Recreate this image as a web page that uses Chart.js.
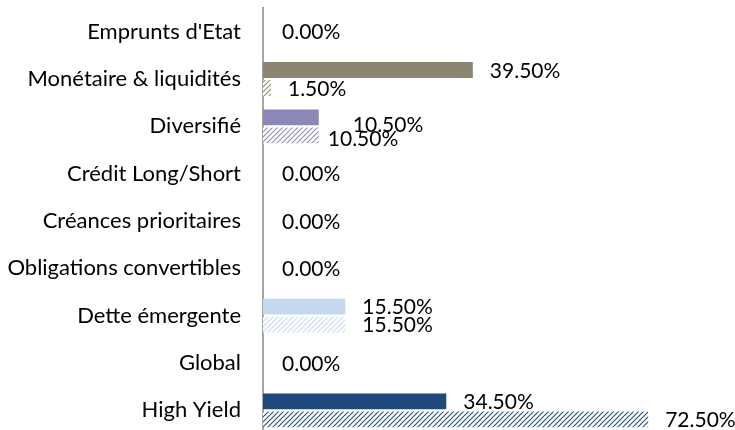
<!DOCTYPE html>
<html>
<head>
<meta charset="utf-8">
<script src="https://cdn.jsdelivr.net/npm/chart.js@4/dist/chart.umd.min.js"></script>
<style>
  html, body { margin: 0; padding: 0; background: #fff; overflow: hidden; }
  #wrap { width: 735px; height: 436px; position: relative; }
</style>
</head>
<body>
<div id="wrap"><canvas id="c"></canvas></div>
<script>
// ---- data ----
const categories = [
  "Emprunts d'Etat",
  "Monétaire & liquidités",
  "Diversifié",
  "Crédit Long/Short",
  "Créances prioritaires",
  "Obligations convertibles",
  "Dette émergente",
  "Global",
  "High Yield"
];
const seriesSolid   = [0, 39.5, 10.5, 0, 0, 0, 15.5, 0, 34.5];
const seriesHatched = [0, 1.5, 10.5, 0, 0, 0, 15.5, 0, 72.5];
const categoryColors = ["#8C8571", "#8C8571", "#8B88B6", "#8B88B6", "#8B88B6", "#8B88B6", "#C6D8EF", "#1F497D", "#1F497D"];

// ---- styling helpers ----
function hatch(color) {
  const s = 5;
  const c = document.createElement('canvas');
  c.width = s; c.height = s;
  const g = c.getContext('2d');
  g.fillStyle = '#ffffff';
  g.fillRect(0, 0, s, s);
  g.strokeStyle = color;
  g.lineWidth = 1.05;
  g.beginPath();
  g.moveTo(0, s); g.lineTo(s, 0);
  g.moveTo(-1, 1); g.lineTo(1, -1);
  g.moveTo(s - 1, s + 1); g.lineTo(s + 1, s - 1);
  g.stroke();
  return document.getElementById('c').getContext('2d').createPattern(c, 'repeat');
}

const FONT = "Lato";
const labelNudges = { 2: [[17, 7], [-8, 3]] }; // cosmetic label offsets (category index -> per dataset)

const valueLabels = {
  id: 'valueLabels',
  afterDatasetsDraw(chart) {
    const ctx = chart.ctx;
    const xs = chart.scales.x, ys = chart.scales.y;
    ctx.save();
    ctx.font = "21px " + FONT;
    ctx.fillStyle = "#000";
    ctx.textAlign = "left";
    ctx.textBaseline = "middle";
    const fmt = v => v.toFixed(2) + "%";
    categories.forEach((cat, i) => {
      const a = seriesSolid[i], b = seriesHatched[i];
      if (a === 0 && b === 0) {
        ctx.fillText(fmt(0), xs.getPixelForValue(0) + 19, ys.getPixelForValue(i) + 1);
        return;
      }
      [0, 1].forEach(d => {
        const el = chart.getDatasetMeta(d).data[i];
        const v = chart.data.datasets[d].data[i];
        const n = (labelNudges[i] && labelNudges[i][d]) || [0, 0];
        ctx.fillText(fmt(v), el.x + 17 + n[0], el.y + 1 + n[1]);
      });
    });
    ctx.restore();
  }
};

const chart = new Chart(document.getElementById('c'), {
  type: 'bar',
  data: {
    labels: categories,
    datasets: [
      {
        label: 'A',
        data: seriesSolid,
        backgroundColor: categoryColors,
        borderWidth: 0,
        categoryPercentage: 0.76,
        barPercentage: 0.88
      },
      {
        label: 'B',
        data: seriesHatched,
        backgroundColor: categoryColors.map(hatch),
        borderWidth: 0,
        categoryPercentage: 0.76,
        barPercentage: 0.88
      }
    ]
  },
  options: {
    indexAxis: 'y',
    responsive: true,
    maintainAspectRatio: false,
    animation: false,
    layout: { padding: { top: 8, bottom: 2, left: 0, right: 47 } },
    plugins: { legend: { display: false }, tooltip: { enabled: false } },
    scales: {
      x: {
        display: false,
        min: 0,
        max: 80
      },
      y: {
        grid: { display: false, drawTicks: false },
        border: { display: true, color: '#A6A6A6', width: 2 },
        ticks: {
          color: '#000',
          padding: 22,
          font: { family: FONT, size: 22 }
        },
        afterFit(scale) {
          scale.width = 263;
          scale.paddingTop = 0;
          scale.paddingBottom = 0;
        }
      }
    }
  },
  plugins: [valueLabels]
});
</script>
</body>
</html>
